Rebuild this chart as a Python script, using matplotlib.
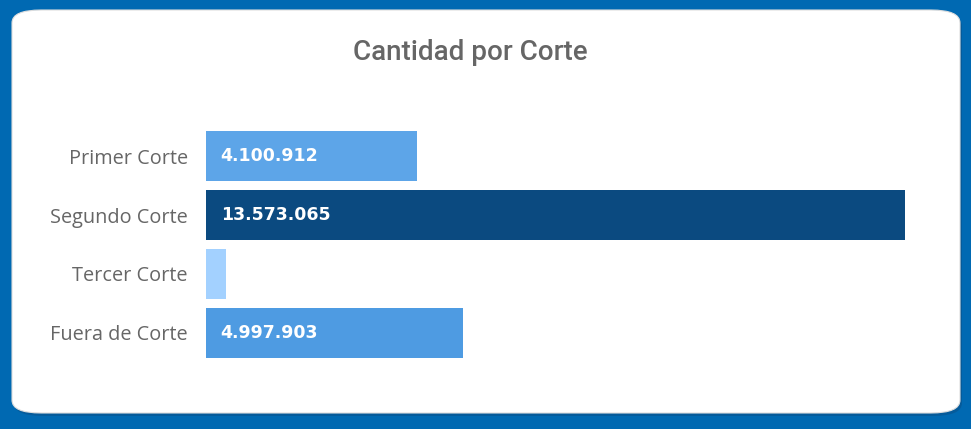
import matplotlib.pyplot as plt
from matplotlib.patches import FancyBboxPatch

categories = ['Primer Corte', 'Segundo Corte', 'Tercer Corte', 'Fuera de Corte']
values = [4100912, 13573065, 390000, 4997903]
colors = ['#5DA5E8', '#0B4A80', '#A3D1FF', '#4E9BE2']
show_label = [True, True, False, True]

W, H = 971, 429
fig = plt.figure(figsize=(W / 100, H / 100), dpi=100)
fig.patch.set_facecolor('#0069B2')

# white card with a soft shadow
shadow = FancyBboxPatch((14 / W, (H - 416) / H), 948 / W, 403 / H,
                        boxstyle='round,pad=0,rounding_size=0.03',
                        transform=fig.transFigure, facecolor='#0A4F86',
                        edgecolor='none', alpha=0.5, zorder=-2)
card = FancyBboxPatch((12 / W, (H - 413) / H), 948 / W, 403 / H,
                      boxstyle='round,pad=0,rounding_size=0.03',
                      transform=fig.transFigure, facecolor='white',
                      edgecolor='#DDDDDD', linewidth=0.8, zorder=-1)
fig.patches.extend([shadow, card])

fig.text(470 / W, 1 - 52 / H, 'Cantidad por Corte', ha='center', va='center',
         fontsize=20, color='#666666', family='Roboto', fontweight='medium')

ax = fig.add_axes([206 / W, 1 - 362 / H, 699 / W, 235 / H])
ax.set_zorder(2)
ax.set_facecolor('none')
y = range(len(categories))
ax.barh(y, values, height=0.85, color=colors)
ax.set_xlim(0, max(values))
ax.set_ylim(len(categories) - 0.5, -0.5)
ax.set_yticks(list(y))
ax.set_yticklabels(categories, fontsize=14.3, color='#666666', family='Open Sans')
ax.tick_params(axis='y', length=0, pad=13)
ax.set_xticks([])
for s in ax.spines.values():
    s.set_visible(False)

for i, v in enumerate(values):
    if show_label[i]:
        txt = f'{v:,}'.replace(',', '.')
        ax.text(max(values) * 0.021, i, txt, ha='left', va='center',
                color='white', fontsize=12.5, fontweight='bold', family='DejaVu Sans')

fig.savefig('out.png', dpi=100)
